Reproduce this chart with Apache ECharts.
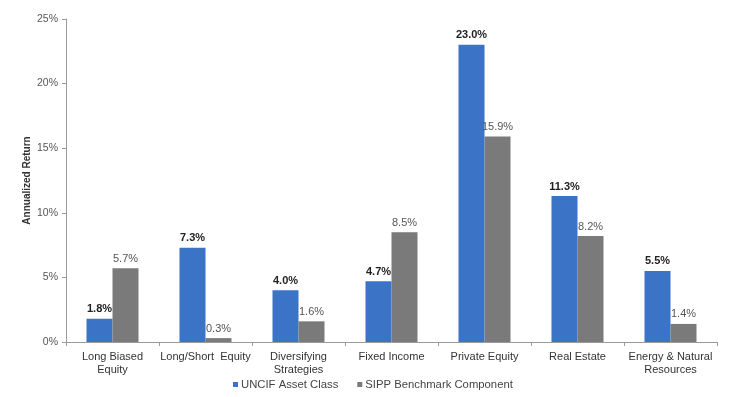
<!DOCTYPE html>
<html>
<head>
<meta charset="utf-8">
<script src="https://cdn.jsdelivr.net/npm/echarts@6/dist/echarts.min.js"></script>
<style>
  html, body { margin: 0; padding: 0; background: #fff; }
  #chart { width: 730px; height: 397px; }
</style>
</head>
<body>
<div id="chart"></div>
<script>
// Asset classes along the x axis
const categories = [
  'Long Biased\nEquity',
  'Long/Short  Equity',
  'Diversifying\nStrategies',
  'Fixed Income',
  'Private Equity',
  'Real Estate',
  'Energy & Natural\nResources'
];
// Annualized returns, percent
const uncifValues = [1.8, 7.3, 4.0, 4.7, 23.0, 11.3, 5.5];
const sippValues = [5.7, 0.3, 1.6, 8.5, 15.9, 8.2, 1.4];
const seriesNames = ['UNCIF Asset Class', 'SIPP Benchmark Component'];
const yTicks = [0, 5, 10, 15, 20, 25];

const fontFamily = 'Liberation Sans, Arial, sans-serif';
const chart = echarts.init(document.getElementById('chart'));

chart.setOption({
  animation: false,
  textStyle: { fontFamily: fontFamily },
  grid: { left: 66, right: 13, top: 19, bottom: 55 },
  legend: {
    bottom: 2,
    left: 228,
    itemWidth: 5,
    itemHeight: 5,
    itemGap: 19,
    icon: 'rect',
    textStyle: { fontSize: 11.3, color: '#444', padding: [0, 0, 0, -2] },
    data: seriesNames
  },
  xAxis: {
    type: 'category',
    data: categories,
    axisLine: { lineStyle: { color: '#9a9a9a' } },
    axisTick: { show: true, length: 4, lineStyle: { color: '#9a9a9a' } },
    axisLabel: { fontSize: 11, color: '#333', lineHeight: 13, margin: 8, interval: 0 }
  },
  yAxis: {
    type: 'value',
    min: yTicks[0],
    max: yTicks[yTicks.length - 1],
    interval: 5,
    name: 'Annualized Return',
    nameLocation: 'middle',
    nameGap: 34,
    nameMoveOverlap: false,
    nameTextStyle: { fontSize: 10, fontWeight: 'bold', color: '#333' },
    splitLine: { show: false },
    axisLine: { show: true, lineStyle: { color: '#9a9a9a' } },
    axisTick: { show: true, length: 4, lineStyle: { color: '#9a9a9a' } },
    axisLabel: { fontSize: 10.5, color: '#555', margin: 8, formatter: '{value}%' }
  },
  series: [
    {
      name: seriesNames[0],
      type: 'bar',
      data: uncifValues,
      barWidth: 26,
      barGap: '0%',
      itemStyle: { color: '#3b73c6' },
      label: {
        show: true,
        position: 'top',
        distance: 4,
        fontSize: 11,
        fontWeight: 'bold',
        color: '#222',
        formatter: p => p.value.toFixed(1) + '%'
      }
    },
    {
      name: seriesNames[1],
      type: 'bar',
      data: sippValues,
      barWidth: 26,
      itemStyle: { color: '#7a7a7a' },
      label: {
        show: true,
        position: 'top',
        distance: 4,
        fontSize: 11,
        color: '#555',
        formatter: p => p.value.toFixed(1) + '%'
      }
    }
  ]
});
</script>
</body>
</html>
